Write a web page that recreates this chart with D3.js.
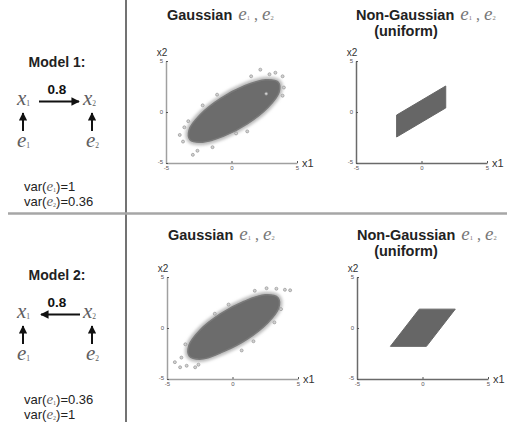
<!DOCTYPE html>
<html><head><meta charset="utf-8">
<script src="https://cdn.jsdelivr.net/npm/d3@7/dist/d3.min.js"></script>
<style>body{margin:0;background:#fff}svg{display:block}</style>
</head><body>
<svg id="c" width="507" height="422"></svg>
<script>
// ---------------- data ----------------
const axisTicks = [-5, 0, 5];
const axisTickLabels = ["-5", "0", "5"];
const modelNames = ["Model 1:", "Model 2:"];
const coefficient = "0.8";
const model1Vars = [["1", "1"], ["2", "0.36"]];
const model2Vars = [["1", "0.36"], ["2", "1"]];
const titleGaussian = "Gaussian";
const titleNonGaussian = "Non-Gaussian";
const titleUniform = "(uniform)";

// dense core outline of the Gaussian scatter (x1, x2)
const model1GaussHull = [[3.57,2.92],[2.61,3.16],[1.00,2.57],[-0.83,1.33],[-2.38,-0.25],[-3.23,-1.74],[-3.17,-2.72],[-2.21,-2.96],[-0.60,-2.37],[1.23,-1.13],[2.78,0.45],[3.63,1.94]];
const model1GaussOutliers = [[2.2,4.15],[3.35,3.85],[3.9,3.5],[1.5,3.5],[-3.95,-2.25],[-2.95,-4.2],[-2.2,0.65],[-1.45,-3.45],[-3.6,-1.5],[0.35,-2.1],[2.65,1.8],[3.9,1.6],[-3.7,-2.9],[2.9,3.7],[-2.6,-3.8],[-1.1,1.7],[1.2,-1.9],[4.0,2.4],[-3.3,-0.9]];
const model2GaussHull = [[3.47,2.97],[2.51,3.25],[0.90,2.62],[-0.93,1.38],[-2.48,-0.20],[-3.33,-1.72],[-3.30,-2.75],[-2.35,-3.05],[-0.70,-2.32],[1.13,-1.08],[2.68,0.50],[3.53,1.99]];
const model2GaussOutliers = [[1.7,3.65],[3.35,3.85],[4.0,3.75],[4.4,3.7],[3.7,1.85],[3.2,0.55],[-4.4,-3.35],[-4.0,-3.85],[-3.5,-3.7],[-2.85,-3.85],[-2.6,-3.6],[-1.35,1.4],[0.7,-2.2],[-3.9,-2.9],[2.6,3.9],[-3.6,-1.6],[1.6,-1.3],[-0.3,2.3]];
// corners of the uniform (non-Gaussian) scatter
const model1UniformCorners = [[-1.9,-2.45],[-1.9,-0.3],[1.85,2.55],[1.85,0.4]];
const model2UniformCorners = [[-2.45,-1.8],[-0.25,1.85],[2.5,1.85],[0.3,-1.8]];

// ---------------- drawing ----------------
const svg = d3.select("#c");
const SANS = "'Liberation Sans', Arial, sans-serif";
const SERIF = "'Liberation Serif', 'Times New Roman', serif";
const MATHCOL = "#5e5e5e";

svg.append("line").attr("x1",126).attr("x2",126).attr("y1",0).attr("y2",422)
  .attr("stroke","#444").attr("stroke-width",1.5);
svg.append("line").attr("x1",8).attr("x2",507).attr("y1",213.5).attr("y2",213.5)
  .attr("stroke","#a6a6a6").attr("stroke-width",2.5);

const defs = svg.append("defs");
defs.append("marker").attr("id","ah").attr("viewBox","0 0 10 10").attr("refX",9).attr("refY",5)
  .attr("markerWidth",4.2).attr("markerHeight",4.2).attr("orient","auto-start-reverse")
  .attr("markerUnits","strokeWidth")
  .append("path").attr("d","M0,0 L10,5 L0,10 z").attr("fill","#111");
defs.append("filter").attr("id","soft").append("feGaussianBlur").attr("stdDeviation",0.7);
defs.append("filter").attr("id","halo").append("feGaussianBlur").attr("stdDeviation",1.4);

function mathText(sel, x, y, parts, size) {
  const t = sel.append("text").attr("x",x).attr("y",y).attr("fill",MATHCOL);
  parts.forEach(p => {
    t.append("tspan").attr("font-family",SERIF).attr("font-style","italic")
      .attr("font-size",size).text(p.b);
    t.append("tspan").attr("font-family",SERIF).attr("font-size",size*0.36)
      .attr("dy",1).text(p.s);
  });
  return t;
}

function leftColumn(dy, name, dir, vars) {
  const g = svg.append("g").attr("transform",`translate(0,${dy})`);
  g.append("text").attr("x",57).attr("y",67).attr("text-anchor","middle")
    .attr("font-family",SANS).attr("font-weight","bold").attr("font-size",14).attr("fill","#222").text(name);
  g.append("text").attr("x",57).attr("y",94).attr("text-anchor","middle")
    .attr("font-family",SANS).attr("font-weight","bold").attr("font-size",13.5).attr("fill","#111").text(coefficient);
  mathText(g, 17, 105, [{b:"x", s:"1"}], 21);
  mathText(g, 83, 105, [{b:"x", s:"2"}], 21);
  const ax = dir > 0 ? [39, 79] : [80, 41];
  g.append("line").attr("x1",ax[0]).attr("x2",ax[1]).attr("y1",101.5).attr("y2",101.5)
    .attr("stroke","#111").attr("stroke-width",2).attr("marker-end","url(#ah)");
  [23, 92].forEach(x => g.append("line").attr("x1",x).attr("x2",x).attr("y1",131).attr("y2",113)
    .attr("stroke","#111").attr("stroke-width",2).attr("marker-end","url(#ah)"));
  mathText(g, 17, 147, [{b:"e", s:"1"}], 21);
  mathText(g, 86, 147, [{b:"e", s:"2"}], 21);
  vars.forEach((v, i) => {
    const t = g.append("text").attr("x",24).attr("y",191 + i*14.5).attr("font-family",SANS)
      .attr("font-size",13).attr("fill","#222");
    t.append("tspan").text("var(");
    t.append("tspan").attr("font-family",SERIF).attr("font-style","italic").attr("font-size",15)
      .attr("fill",MATHCOL).text("e");
    t.append("tspan").attr("font-family",SERIF).attr("font-size",6).attr("fill",MATHCOL).attr("dy",1).text(v[0]);
    t.append("tspan").attr("dy",-1).text(")=" + v[1]);
  });
}
leftColumn(0, modelNames[0], 1, model1Vars);
leftColumn(213, modelNames[1], -1, model2Vars);

function title(x, y, label, second) {
  const t = svg.append("text").attr("x",x).attr("y",y).attr("fill","#222");
  t.append("tspan").attr("font-family",SANS).attr("font-weight","bold").attr("font-size",14.5).text(label);
  t.append("tspan").attr("font-family",SERIF).attr("font-style","italic").attr("font-size",19)
    .attr("fill","#777").attr("dx",6).text("e");
  t.append("tspan").attr("font-family",SERIF).attr("font-size",6.5).attr("fill","#777").text("1");
  t.append("tspan").attr("font-family",SERIF).attr("font-size",16).attr("fill","#777").text(" , ");
  t.append("tspan").attr("font-family",SERIF).attr("font-style","italic").attr("font-size",19)
    .attr("fill","#777").text("e");
  t.append("tspan").attr("font-family",SERIF).attr("font-size",6.5).attr("fill","#777").text("2");
  if (second) svg.append("text").attr("x",second[0]).attr("y",second[1]).attr("text-anchor","middle")
    .attr("font-family",SANS).attr("font-weight","bold").attr("font-size",14.5).attr("fill","#222").text(titleUniform);
}
title(167, 20, titleGaussian);
title(356, 20, titleNonGaussian, [406, 36]);
title(168, 240, titleGaussian);
title(357, 240, titleNonGaussian, [406, 256]);

function panel(xr, yr, kind, shape, outliers) {
  const x = d3.scaleLinear().domain([-5,5]).range(xr);
  const y = d3.scaleLinear().domain([-5,5]).range(yr);
  const g = svg.append("g");
  const axCol = kind === "gauss" ? "#a0a0a0" : "#6a6a6a";
  const xa = g.append("g").attr("transform",`translate(0,${yr[0]})`)
    .call(d3.axisBottom(x).tickValues(axisTicks).tickSizeInner(-2).tickSizeOuter(0)
      .tickPadding(4).tickFormat((d,i) => axisTickLabels[i]));
  const ya = g.append("g").attr("transform",`translate(${xr[0]},0)`)
    .call(d3.axisLeft(y).tickValues(axisTicks).tickSizeInner(-2).tickSizeOuter(0)
      .tickPadding(3).tickFormat((d,i) => i === 0 ? "" : axisTickLabels[i]));
  [xa, ya].forEach(a => {
    a.select(".domain").attr("stroke",axCol).attr("stroke-width",1.5);
    a.selectAll(".tick line").attr("stroke","#555");
    a.selectAll(".tick text").attr("font-family",SANS).attr("font-size",6).attr("fill","#555");
  });
  xa.selectAll(".tick text").attr("dy","0.5em");
  g.append("text").attr("x",xr[0]-3).attr("y",yr[0]+1).attr("text-anchor","end")
    .attr("font-family",SANS).attr("font-size",6).attr("fill","#555").text(axisTickLabels[0]);
  g.append("text").attr("x",xr[0]-4).attr("y",yr[1]-5).attr("text-anchor","middle")
    .attr("font-family",SANS).attr("font-size",10).attr("fill","#333").text("x2");
  g.append("text").attr("x",xr[1]+5).attr("y",yr[0]+3.5)
    .attr("font-family",SANS).attr("font-size",11).attr("fill","#333").text("x1");
  const line = d3.line().x(d => x(d[0])).y(d => y(d[1])).curve(
    kind === "gauss" ? d3.curveCatmullRomClosed : d3.curveLinearClosed);
  if (kind === "gauss") {
    g.append("path").attr("d",line(shape)).attr("fill","none").attr("stroke","#a4a4a4")
      .attr("stroke-width",6).attr("stroke-opacity",0.75).attr("stroke-linejoin","round").attr("filter","url(#halo)");
    g.append("path").attr("d",line(shape)).attr("fill","#6c6c6c").attr("stroke","#7a7a7a")
      .attr("stroke-width",1.5).attr("stroke-linejoin","round").attr("filter","url(#soft)");
    g.append("g").selectAll("circle").data(outliers).join("circle")
      .attr("cx",d => x(d[0])).attr("cy",d => y(d[1])).attr("r",1.5)
      .attr("fill","#d2d2d2").attr("stroke","#8a8a8a").attr("stroke-width",0.6);
  } else {
    g.append("path").attr("d",line(shape)).attr("fill","#666").attr("stroke","#666")
      .attr("stroke-width",1).attr("stroke-linejoin","round");
  }
}
panel([166,297],[163,61],"gauss",model1GaussHull,model1GaussOutliers);
panel([356,487],[163,61],"unif",model1UniformCorners);
panel([167,298],[379,277],"gauss",model2GaussHull,model2GaussOutliers);
panel([357,488],[379,277],"unif",model2UniformCorners);
</script>
</body></html>
